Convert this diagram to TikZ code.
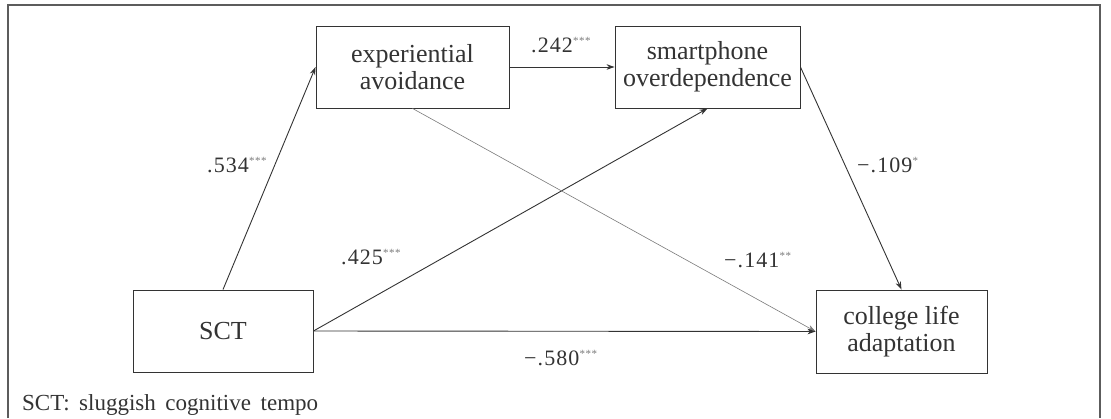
\documentclass[tikz,border=0pt]{standalone}
\usepackage{fontspec}
\setmainfont{Liberation Serif}
\usetikzlibrary{arrows.meta}
\definecolor{ink}{HTML}{333333}
\definecolor{starc}{HTML}{7A7A7A}
\definecolor{thin}{HTML}{7A7A7A}
\newfontfamily\labfont[LetterSpace=5]{Liberation Serif}
\newcommand{\sig}[1]{\raisebox{0.75ex}{\fontsize{11}{11}\selectfont\color{starc}#1}}
\begin{document}
\begin{tikzpicture}[x=1pt,y=-1pt,
  box/.style={draw=ink,line width=0.9pt,inner sep=0pt,align=center,text=ink,
    font=\fontsize{26}{27}\selectfont},
  conn/.style={draw=ink,line width=0.9pt,-{Stealth[length=8pt,width=5.5pt]}},
  thinconn/.style={draw=thin,line width=0.6pt,-{Stealth[length=8pt,width=5.5pt]}},
  lab/.style={anchor=west,inner sep=0pt,text=ink,font=\labfont\fontsize{22}{22}\selectfont}]
\useasboundingbox (0,0) rectangle (1111,418);
\draw[draw=ink!80,line width=1.1pt] (8,418) -- (8,5) -- (1100,5) -- (1100,418);

\node[box,minimum width=193pt,minimum height=82pt] (ea) at (412.5,67) {experiential\\avoidance};
\node[box,minimum width=185pt,minimum height=82pt] (so) at (707.5,67) {smartphone\\overdependence};
\node[box,minimum width=180pt,minimum height=82pt] (sct) at (223,331) {SCT};
\node[box,minimum width=171pt,minimum height=83pt] (cla) at (901.5,331.5) {college life\\adaptation};

\draw[conn] (sct.north) -- (ea.west);
\draw[conn] (ea.east) -- (so.west);
\draw[conn] (sct.east) -- (so.south);
\draw[thinconn] (ea.south) -- (cla.west);
\draw[conn] (sct.east) -- (cla.west);
\draw[conn] (so.east) -- (cla.north);

\node[lab] (l1) at (207,165) {.534\sig{***}};
\node[lab] (l2) at (531,45) {.242\sig{***}};
\node[lab] (l3) at (341,257) {.425\sig{***}};
\node[lab] (l4) at (724,260) {−.141\sig{**}};
\node[lab] (l5) at (857,165) {−.109\sig{*}};
\node[lab] (l6) at (524,358) {−.580\sig{***}};

\node[anchor=base west,inner sep=0pt,text=ink,font=\fontsize{23}{23}\selectfont] (note) at (22,410) {SCT:\, sluggish\, cognitive\, tempo};
\end{tikzpicture}
\end{document}
